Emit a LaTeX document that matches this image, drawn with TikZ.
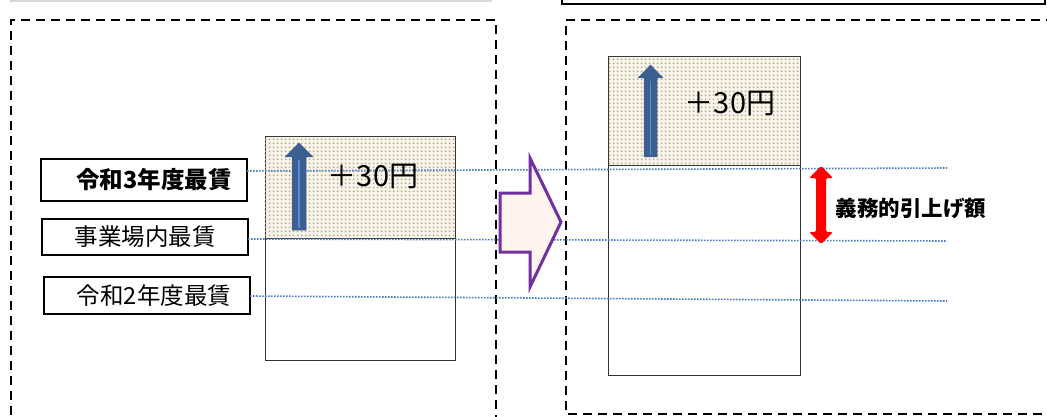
\documentclass[tikz,border=0pt]{standalone}
\usepackage{fontspec}
\newfontfamily\jp{Noto Sans CJK JP}
\usetikzlibrary{patterns}
\pgfdeclarepatternformonly{tandots}{\pgfqpoint{0pt}{0pt}}{\pgfqpoint{4pt}{4pt}}{\pgfqpoint{4pt}{4pt}}{%
  \pgfpathrectangle{\pgfqpoint{1pt}{1pt}}{\pgfqpoint{2pt}{2pt}}\pgfusepath{fill}}
\definecolor{dotblue}{HTML}{4A7EC0}
\definecolor{arrblue}{HTML}{3A5F90}
\definecolor{arrlight}{HTML}{5B8BD0}
\definecolor{purp}{HTML}{7030A0}
\definecolor{pinkfill}{HTML}{FFF5EE}
\definecolor{shadebg}{HTML}{F8F5EC}
\definecolor{shadedot}{HTML}{B8A57A}
\tikzset{
  lbl/.style={draw=black, line width=2.2pt, minimum width=206pt, inner sep=0pt, font=\jp\fontsize{23.5}{24}\selectfont},
  barbox/.style={draw=black!80, line width=1pt, minimum width=190pt, inner sep=0pt},
  shaded/.style={fill=shadebg, postaction={pattern=tandots, pattern color=shadedot}},
  guide/.style={dotblue, line width=1.6pt, dash pattern=on 1.6pt off 1.4pt},
  frame/.style={black, line width=2.5pt, dash pattern=on 9pt off 6pt},
  uparrow/.style={fill=arrblue, draw=arrblue, line width=0.5pt},
  amount/.style={font=\jp\fontsize{29}{29}\selectfont, inner sep=0pt},
}
\begin{document}
\begin{tikzpicture}[x=1pt,y=-1pt]
\useasboundingbox (0,0) rectangle (1047,417);
\clip (0,0) rectangle (1047,417);
\fill[white] (0,0) rectangle (1047,417);

% top decorations
\draw[black!15, line width=2pt] (10,1) -- (492,1);
\draw[black, line width=2pt] (562,-10) -- (562,4) -- (1045,4) -- (1045,-10);

% dashed frames
\draw[frame] (11,430) -- (11,20) -- (496,20) -- (496,430);
\draw[frame] (1070,20) -- (566,20) -- (566,414) -- (1070,414);

% left bar
\node[barbox, shaded, minimum height=101pt] (barLtop) at (360,187.5) {};
\node[barbox, minimum height=122pt] (barLbot) at (360,299) {};

% right bar
\node[barbox, shaded, minimum width=192pt, minimum height=109pt] (barRtop) at (704,111.5) {};
\node[barbox, minimum width=192pt, minimum height=209pt] (barRbot) at (704,270.5) {};

% labels
\node[lbl, minimum height=42pt] (r3) at (144,180) {\hspace*{20pt}\bfseries 令和3年度最賃};
\node[lbl, minimum height=36pt] (jm) at (145,237) {事業場内最賃};
\node[lbl, minimum height=37pt] (r2) at (147,295.5) {\hspace*{14pt}令和2年度最賃};

% guide lines
\coordinate (g1a) at (247,171); \coordinate (g1b) at (947,168);
\coordinate (g2a) at (248,239); \coordinate (g2b) at (947,241);
\coordinate (g3a) at (250,296); \coordinate (g3b) at (947,301);
\draw[guide] (g1a) -- (g1b);
\draw[guide] (g2a) -- (g2b);
\draw[guide] (g3a) -- (g3b);

% blue up arrows
\draw[uparrow] (292,230) -- (292,157) -- (285,157) -- (299,143) -- (313,157) -- (306,157) -- (306,230) -- cycle;
\draw[arrlight, line width=2pt] (299,228) -- (299,160);
\draw[uparrow] (644,157) -- (644,78) -- (638,78) -- (650.5,65) -- (663,78) -- (657,78) -- (657,157) -- cycle;
\draw[arrlight, line width=1.5pt] (650.5,155) -- (650.5,81);

% amounts
\node[amount] (amtL) at (373,176) {＋30円};
\node[amount] (amtR) at (730,103) {＋30円};

% purple block arrow
\draw[purp, line width=3pt, fill=pinkfill, line join=miter] (500,193) -- (530,193) -- (530,158) -- (561,222) -- (530,287) -- (530,252) -- (500,252) -- cycle;

% red double arrow
\fill[red, rounded corners=1.5pt] (821,166) -- (833,178) -- (826,178) -- (826,232) -- (833,232) -- (821,244) -- (809,232) -- (816,232) -- (816,178) -- (809,178) -- cycle;
\node[font=\jp\bfseries\fontsize{21.5}{22}\selectfont, inner sep=0pt] (gimu) at (911,208) {義務的引上げ額};
\end{tikzpicture}
\end{document}
